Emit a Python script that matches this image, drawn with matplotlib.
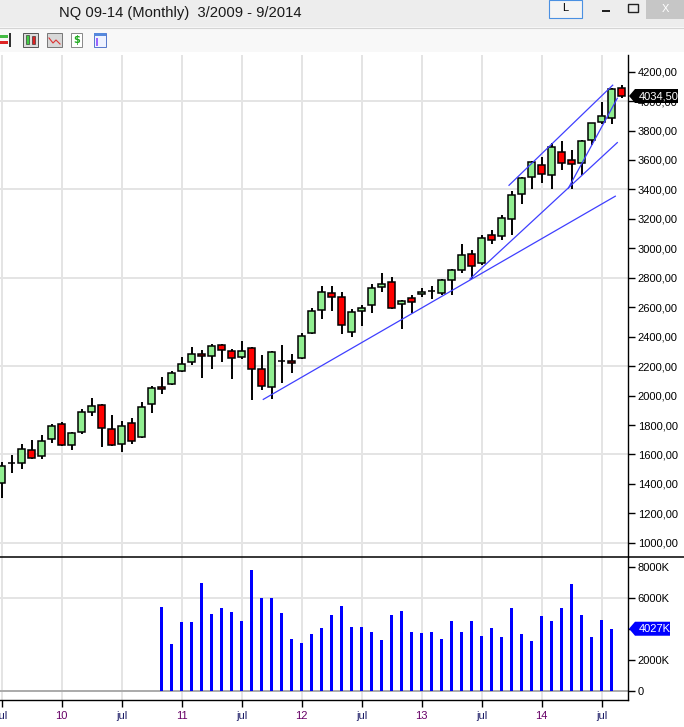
import matplotlib
matplotlib.use("Agg")
import matplotlib.pyplot as plt
from matplotlib.patches import Rectangle, Polygon
from matplotlib.lines import Line2D
import numpy as np

# monthly candles, Jul 2009 .. Sep 2014 (index 0 = Jul 2009)
opens = [1404, 1540, 1540, 1628, 1587, 1703, 1805, 1662, 1750, 1886,
         1934, 1771, 1671, 1811, 1716, 1940, 2056, 2078, 2165, 2226,
         2280, 2266, 2341, 2303, 2260, 2321, 2178, 2056, 2237, 2233,
         2253, 2423, 2579, 2695, 2667, 2430, 2572, 2613, 2735, 2769,
         2620, 2661, 2688, 2712, 2694, 2783, 2851, 2960, 2898, 3089,
         3082, 3197, 3367, 3483, 3564, 3497, 3652, 3598, 3578, 3734,
         3857, 3884, 4087]
highs = [1550, 1596, 1671, 1698, 1732, 1809, 1818, 1752, 1907, 1981,
         1940, 1868, 1827, 1845, 1954, 2065, 2124, 2165, 2260, 2328,
         2307, 2348, 2350, 2314, 2371, 2328, 2273, 2300, 2341, 2280,
         2423, 2593, 2744, 2744, 2701, 2586, 2613, 2756, 2830, 2803,
         2650, 2681, 2729, 2744, 2790, 2862, 3027, 2987, 3089, 3123,
         3224, 3387, 3483, 3591, 3618, 3714, 3727, 3666, 3734, 3851,
         3992, 4087, 4110]
lows = [1302, 1476, 1499, 1571, 1567, 1676, 1655, 1632, 1739, 1863,
        1652, 1657, 1618, 1669, 1710, 1884, 2008, 2075, 2160, 2205,
        2117, 2178, 2226, 2110, 2246, 1968, 2040, 1975, 2083, 2151,
        2248, 2416, 2518, 2572, 2416, 2396, 2470, 2559, 2701, 2590,
        2450, 2559, 2667, 2654, 2683, 2683, 2830, 2790, 2885, 3027,
        3055, 3089, 3299, 3401, 3442, 3401, 3531, 3401, 3497, 3700,
        3843, 3843, 4019]
closes = [1521, 1540, 1635, 1578, 1689, 1791, 1662, 1744, 1886, 1929,
          1782, 1662, 1791, 1693, 1920, 2049, 2042, 2151, 2212, 2280,
          2266, 2334, 2307, 2253, 2303, 2178, 2063, 2294, 2237, 2219,
          2402, 2572, 2701, 2667, 2477, 2566, 2593, 2729, 2756, 2593,
          2641, 2634, 2701, 2712, 2783, 2851, 2953, 2878, 3068, 3055,
          3204, 3360, 3476, 3585, 3503, 3686, 3578, 3571, 3727, 3851,
          3898, 4081, 4034.5]

# volume in thousands, starts at Nov 2010 (index 16)
vol_start = 16
volumes_k = [5420, 3030, 4450, 4450, 6970, 4970, 5350, 5100, 4520, 7800,
             6000, 6000, 5030, 3350, 3100, 3680, 4060, 4900, 5490, 4140,
             4140, 3820, 3300, 4910, 5170, 3820, 3750, 3820, 3370, 4520,
             3820, 4520, 3560, 4070, 3500, 5360, 3690, 3240, 4850, 4520,
             5360, 6900, 4910, 3500, 4590, 4027]

tick_pos = [0, 6, 12, 18, 24, 30, 36, 42, 48, 54, 60]
tick_labels = ['jul', '10', 'jul', '11', 'jul', '12', 'jul', '13', 'jul', '14', 'jul']

# hand drawn trend lines: (month index, price) start and end
trend_starts = [(26.18, 1974), (46.85, 2792), (50.75, 3428), (56.68, 3408)]
trend_ends = [(61.38, 3354), (61.58, 3718), (61.12, 4108), (61.58, 4019)]

last_price = closes[-1]
last_volume = volumes_k[-1]

W, H = 684, 727
fig = plt.figure(figsize=(W / 100, H / 100), dpi=100)
fig.patch.set_facecolor('white')


def box(x, y, w, h, **kw):
    # rectangle in pixel units, measured from the top left corner
    fig.add_artist(Rectangle((x / W, 1 - (y + h) / H), w / W, h / H,
                             transform=fig.transFigure, **kw))


def hline(x0, x1, y, **kw):
    fig.add_artist(Line2D([x0 / W, x1 / W], [1 - y / H, 1 - y / H],
                          transform=fig.transFigure, **kw))


# window chrome
box(0, 0, W, 27, facecolor='#ededed', edgecolor='none')
box(0, 27, W, 25, facecolor='#f8f8f8', edgecolor='none')
hline(0, W, 27.5, color='#d4d4d4', lw=0.8)
fig.text(59 / W, 1 - 13 / H, 'NQ 09-14 (Monthly)  3/2009 - 9/2014',
         fontsize=10.6, family='Liberation Sans', va='center', color='#1a1a1a')
box(549, 0, 33, 18, facecolor='#f4f4f4', edgecolor='#4a90e2', lw=0.8)
fig.text(565.5 / W, 1 - 8 / H, 'L', fontsize=8, family='Liberation Sans',
         ha='center', va='center')
box(602, 10, 8, 2, facecolor='#222222', edgecolor='none')
box(628, 4, 10, 8, facecolor='none', edgecolor='#222222', lw=1.0)
box(646, 0, 38, 19, facecolor='#c6c6c6', edgecolor='none')
fig.text(665 / W, 1 - 9 / H, 'X', fontsize=8, color='white', ha='center',
         va='center', family='Liberation Sans')

# toolbar icons (rough)
box(0, 35, 8, 3, facecolor='#44bb44', edgecolor='none')
box(0, 41, 8, 3, facecolor='#dd2222', edgecolor='none')
box(9, 33, 1.5, 14, facecolor='#333333', edgecolor='none')
box(23, 33, 15, 14, facecolor='#dddddd', edgecolor='#555555', lw=0.7)
box(26, 35, 3, 9, facecolor='#44cc44', edgecolor='#222222', lw=0.4)
box(32, 36, 3, 8, facecolor='#dd2222', edgecolor='#222222', lw=0.4)
box(47, 33, 15, 14, facecolor='#d8d8d8', edgecolor='#777777', lw=0.7)
fig.add_artist(Line2D([49 / W, 53 / W, 56 / W, 60 / W],
                      [1 - 38 / H, 1 - 43 / H, 1 - 40 / H, 1 - 44 / H],
                      transform=fig.transFigure, color='#dd3333', lw=0.8))
box(71, 33, 11, 14, facecolor='white', edgecolor='#888888', lw=0.7)
fig.text(76.5 / W, 1 - 40 / H, '$', fontsize=7, color='#22aa22', ha='center',
         va='center', weight='bold')
box(94, 33, 12, 14, facecolor='#eef2ff', edgecolor='#5577cc', lw=0.7)
box(94, 33, 12, 3, facecolor='#5588dd', edgecolor='none')
box(96, 38, 2, 8, facecolor='#9966ff', edgecolor='none')

# price panel
ax = fig.add_axes([0, 1 - 557 / H, 628 / W, (557 - 55) / H])
axv = fig.add_axes([0, 1 - 700 / H, 628 / W, (700 - 557) / H], sharex=ax)

x = np.arange(len(opens))
o = np.array(opens, dtype=float)
c = np.array(closes, dtype=float)
colors = np.where(c > o, '#90ee90', '#ff0000')

grid_col = '#e4e4e4'
for p in tick_pos:
    ax.axvline(p + 0.05, color=grid_col, lw=1.4, zorder=0)
    axv.axvline(p + 0.05, color=grid_col, lw=1.4, zorder=0)
for lvl in range(1000, 4201, 600):
    ax.axhline(lvl, color=grid_col, lw=1.4, zorder=0)
axv.axhline(6000, color=grid_col, lw=1.4, zorder=0)
axv.axhline(0, color='#aaaaaa', lw=1.4, zorder=1)

ax.vlines(x, lows, highs, color='black', lw=1.4, zorder=2)
ax.bar(x, np.abs(c - o), bottom=np.minimum(o, c), width=0.7, color=colors,
       edgecolor='black', lw=1.1, zorder=3)

for (x0, y0), (x1, y1) in zip(trend_starts, trend_ends):
    ax.plot([x0, x1], [y0, y1], color='#3f3fff', lw=0.9, zorder=4)

ax.set_xlim(-0.15, 62.65)
ax.set_ylim(903.5, 4313)
for s in ['left', 'top', 'bottom']:
    ax.spines[s].set_visible(False)
ax.spines['right'].set_linewidth(1.0)
ax.yaxis.tick_right()
yt = list(range(1000, 4201, 200))
ax.set_yticks(yt)
ax.set_yticklabels([f'{v},00' for v in yt])
ax.tick_params(axis='y', direction='out', length=5, width=1, labelsize=8, pad=2)
ax.tick_params(axis='x', length=0, labelbottom=False)
for t in ax.get_yticklabels():
    t.set_family('Liberation Sans')

# volume panel
xv = np.arange(vol_start, vol_start + len(volumes_k))
axv.bar(xv, volumes_k, width=0.3, color='#0000ff', zorder=3)
axv.set_ylim(-560, 8644)
for s in ['left', 'top']:
    axv.spines[s].set_visible(False)
axv.spines['right'].set_linewidth(1.0)
axv.spines['bottom'].set_linewidth(1.0)
axv.yaxis.tick_right()
axv.set_yticks([0, 2000, 4000, 6000, 8000])
axv.set_yticklabels(['0', '2000K', '', '6000K', '8000K'])
axv.tick_params(axis='y', direction='out', length=5, width=1, labelsize=8, pad=2)
axv.set_xticks(tick_pos)
axv.set_xticklabels(tick_labels)
axv.tick_params(axis='x', direction='out', length=5, width=1, labelsize=8, pad=3)
for t in axv.get_xticklabels():
    t.set_family('Liberation Sans')
    t.set_color('#1c1c66' if t.get_text() == 'jul' else '#660066')
for t in axv.get_yticklabels():
    t.set_family('Liberation Sans')

hline(0, W, 557, color='black', lw=1.1)


def value_tag(axis, value, text, color, width):
    # arrow shaped label on the right scale
    yd = axis.transData.transform((0, value))[1]
    yp = H - yd
    pts = [(629, yp), (635, yp - 7), (635 + width, yp - 7),
           (635 + width, yp + 7), (635, yp + 7)]
    fig.add_artist(Polygon([(px / W, 1 - py / H) for px, py in pts],
                           closed=True, transform=fig.transFigure,
                           facecolor=color, edgecolor='none', zorder=10))
    fig.text((637 + width / 2) / W, 1 - yp / H, text, fontsize=8, color='white',
             ha='center', va='center', family='Liberation Sans', zorder=11)


value_tag(ax, last_price, f'{last_price:.2f}'.replace('.', ','), 'black', 43)
value_tag(axv, last_volume, f'{last_volume}K', '#0000ff', 35)

fig.savefig('out.png', dpi=100)
